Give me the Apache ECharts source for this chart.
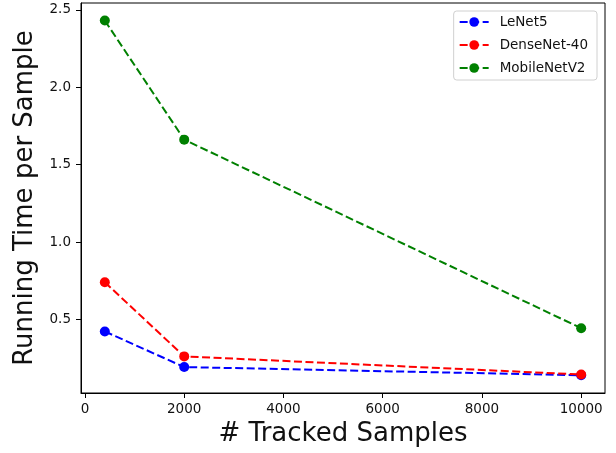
<!DOCTYPE html>
<html>
<head>
<meta charset="utf-8">
<script src="https://cdn.jsdelivr.net/npm/echarts@6/dist/echarts.min.js"></script>
<style>
    html, body { margin: 0; padding: 0; background: #fff; }
    #chart { width: 616px; height: 453px; }
</style>
</head>
<body>
<div id="chart"></div>
<script>
// tracked sample counts (x) and running time per sample for each model
const trackedSamples = [400, 2000, 10000];
const lenet5 = [0.423, 0.193, 0.140];
const densenet40 = [0.741, 0.262, 0.145];
const mobilenetv2 = [2.431, 1.662, 0.444];
const xTicks = [0, 2000, 4000, 6000, 8000, 10000];
const yTicks = [0.5, 1.0, 1.5, 2.0, 2.5];

const seriesNames = ['LeNet5', 'DenseNet-40', 'MobileNetV2'];
const seriesData = [lenet5, densenet40, mobilenetv2];
const seriesColors = ['#0000ff', '#ff0000', '#008000'];

const font = 'DejaVu Sans';

// 把 x 和 y 拼成点对
function pairs(ys) {
    return trackedSamples.map((x, i) => [x, ys[i]]);
}

let chart = echarts.init(document.getElementById('chart'));
let option = {
    animation: false,
    backgroundColor: '#fff',
    grid: {
        left: 81,
        right: 11,
        top: 3,
        bottom: 60,
        show: true,
        borderColor: '#000',
        borderWidth: 1
    },
    legend: {
        right: 19,
        top: 11,
        orient: 'vertical',
        data: seriesNames,
        itemWidth: 29,
        itemHeight: 12,
        itemGap: 9,
        padding: [4, 9, 5, 5],
        borderColor: '#d0d0d0',
        borderWidth: 1,
        borderRadius: 3,
        backgroundColor: 'rgba(255,255,255,0.8)',
        textStyle: {
            fontFamily: font,
            fontSize: 13.5,
            color: '#111',
            lineHeight: 14,
            padding: [0, 0, 0, 6]
        }
    },
    xAxis: {
        type: 'value',
        min: -80,
        max: 10480,
        name: '# Tracked Samples',
        nameLocation: 'middle',
        nameGap: 28,
        nameTextStyle: { fontFamily: font, fontSize: 26, color: '#111' },
        axisLine: { show: true, onZero: false, lineStyle: { color: '#000', width: 1 } },
        axisTick: { show: true, length: 5, customValues: xTicks, lineStyle: { color: '#000' } },
        axisLabel: {
            customValues: xTicks,
            margin: 9,
            fontFamily: font,
            fontSize: 13.5,
            color: '#111',
            formatter: v => String(v)
        },
        splitLine: { show: false }
    },
    yAxis: {
        type: 'value',
        min: 0.0255,
        max: 2.5445,
        name: 'Running Time per Sample',
        nameLocation: 'middle',
        nameGap: 41,
        nameTextStyle: { fontFamily: font, fontSize: 26, color: '#111' },
        axisLine: { show: true, onZero: false, lineStyle: { color: '#000', width: 1 } },
        axisTick: { show: true, length: 5, customValues: yTicks, lineStyle: { color: '#000' } },
        axisLabel: {
            customValues: yTicks,
            margin: 10,
            fontFamily: font,
            fontSize: 13.5,
            color: '#111',
            formatter: v => v.toFixed(1)
        },
        splitLine: { show: false }
    },
    series: seriesNames.map((name, i) => ({
        name: name,
        type: 'line',
        data: pairs(seriesData[i]),
        symbol: 'circle',
        symbolSize: 10,
        color: seriesColors[i],
        itemStyle: { color: seriesColors[i] },
        lineStyle: { color: seriesColors[i], width: 2, type: [8, 3.5] }
    }))
};
chart.setOption(option);
</script>
</body>
</html>
